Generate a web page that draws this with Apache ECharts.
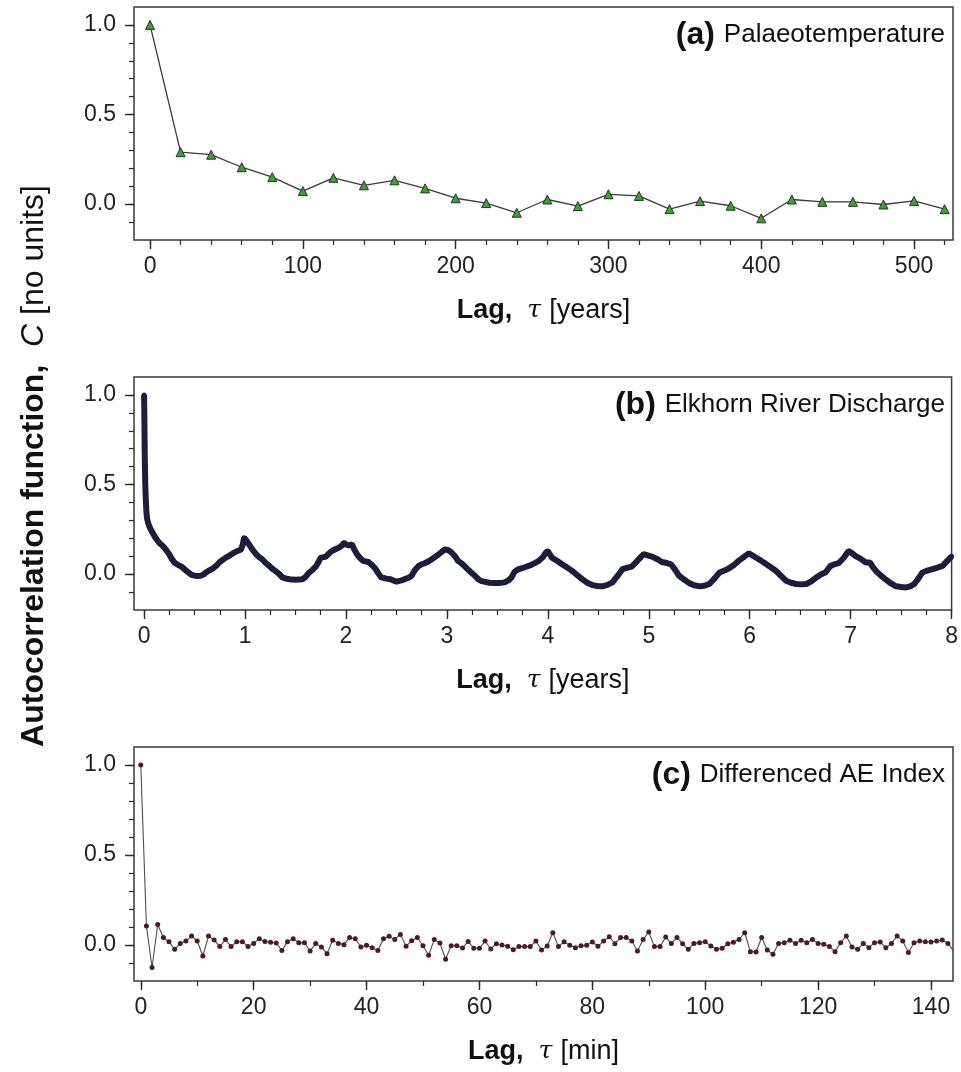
<!DOCTYPE html>
<html>
<head>
<meta charset="utf-8">
<script src="https://cdn.jsdelivr.net/npm/echarts@6/dist/echarts.min.js"></script>
<style>
  html, body { margin: 0; padding: 0; background: #fff; }
  #chart { width: 961px; height: 1072px; }
</style>
</head>
<body>
<div id="chart"></div>
<script>
// (a) palaeotemperature, lag in years
const aLag = [0, 20, 40, 60, 80, 100, 120, 140, 160, 180, 200, 220, 240, 260, 280, 300, 320, 340, 360, 380, 400, 420, 440, 460, 480, 500, 520];
const aAcf = [1.0, 0.29, 0.276, 0.206, 0.151, 0.073, 0.147, 0.105, 0.133, 0.088, 0.033, 0.006, -0.048, 0.026, -0.011, 0.055, 0.046, -0.028, 0.017, -0.009, -0.079, 0.026, 0.013, 0.013, -0.002, 0.018, -0.028];

// (b) Elkhorn river discharge, lag in years
const bLag = [0, 0.0027, 0.0055, 0.0082, 0.011, 0.0137, 0.0164, 0.0192, 0.022, 0.025, 0.03, 0.04, 0.055, 0.07, 0.09, 0.11, 0.13, 0.155, 0.18, 0.2,
  0.225, 0.25, 0.275, 0.3, 0.335, 0.37, 0.4, 0.42, 0.45, 0.47, 0.5, 0.52, 0.56, 0.59, 0.61, 0.65, 0.68, 0.72, 0.75, 0.78,
  0.81, 0.85, 0.89, 0.93, 0.96, 0.98, 0.99, 1.01, 1.04, 1.07, 1.11, 1.14, 1.17, 1.2, 1.24, 1.27, 1.3, 1.34, 1.37, 1.41,
  1.44, 1.5, 1.57, 1.6, 1.63, 1.67, 1.7, 1.73, 1.75, 1.78, 1.8, 1.83, 1.86, 1.9, 1.93, 1.96, 1.98, 2.0, 2.03, 2.06,
  2.08, 2.11, 2.14, 2.17, 2.22, 2.26, 2.29, 2.32, 2.35, 2.4, 2.44, 2.5, 2.55, 2.58, 2.62, 2.65, 2.68, 2.72, 2.75, 2.78,
  2.82, 2.85, 2.88, 2.91, 2.95, 2.98, 3.01, 3.04, 3.08, 3.11, 3.15, 3.18, 3.21, 3.24, 3.28, 3.31, 3.34, 3.37, 3.42, 3.47,
  3.52, 3.57, 3.61, 3.64, 3.67, 3.7, 3.73, 3.78, 3.83, 3.87, 3.91, 3.95, 3.98, 4.0, 4.02, 4.04, 4.09, 4.14, 4.19, 4.24,
  4.29, 4.34, 4.39, 4.44, 4.49, 4.54, 4.59, 4.64, 4.69, 4.74, 4.78, 4.83, 4.88, 4.92, 4.95, 4.99, 5.03, 5.08, 5.13, 5.18,
  5.22, 5.26, 5.3, 5.35, 5.4, 5.45, 5.51, 5.56, 5.6, 5.65, 5.7, 5.75, 5.79, 5.84, 5.89, 5.94, 5.99, 6.04, 6.09, 6.14,
  6.19, 6.23, 6.26, 6.31, 6.36, 6.41, 6.46, 6.51, 6.56, 6.61, 6.66, 6.71, 6.75, 6.8, 6.84, 6.88, 6.93, 6.98, 7.01, 7.05,
  7.1, 7.15, 7.19, 7.22, 7.25, 7.3, 7.35, 7.4, 7.45, 7.5, 7.55, 7.59, 7.63, 7.67, 7.71, 7.76, 7.81, 7.86, 7.91, 7.95, 8.0];
const bAcf = [1.0, 0.88, 0.714, 0.6, 0.522, 0.467, 0.424, 0.393, 0.36, 0.335, 0.31, 0.285, 0.262, 0.245, 0.225, 0.205, 0.19, 0.172, 0.16, 0.148,
  0.13, 0.11, 0.085, 0.065, 0.052, 0.042, 0.028, 0.018, 0.005, -0.004, -0.008, -0.01, -0.009, -0.002, 0.009, 0.022, 0.031, 0.05, 0.068, 0.08,
  0.092, 0.105, 0.12, 0.13, 0.138, 0.17, 0.203, 0.19, 0.166, 0.14, 0.111, 0.095, 0.083, 0.065, 0.046, 0.03, 0.018, 0.0, -0.018, -0.025,
  -0.028, -0.031, -0.028, -0.015, 0.006, 0.025, 0.042, 0.07, 0.092, 0.095, 0.098, 0.115, 0.129, 0.14, 0.148, 0.16, 0.175, 0.165, 0.16, 0.166,
  0.14, 0.111, 0.09, 0.074, 0.068, 0.05, 0.031, 0.005, -0.018, -0.025, -0.028, -0.042, -0.035, -0.028, -0.02, -0.009, 0.02, 0.046, 0.055, 0.061,
  0.072, 0.083, 0.095, 0.107, 0.125, 0.138, 0.135, 0.124, 0.1, 0.074, 0.058, 0.042, 0.025, 0.009, -0.01, -0.028, -0.038, -0.042, -0.048, -0.05,
  -0.05, -0.046, -0.035, -0.018, 0.013, 0.025, 0.031, 0.04, 0.05, 0.062, 0.074, 0.095, 0.12, 0.129, 0.11, 0.092, 0.075, 0.055, 0.038, 0.018,
  -0.005, -0.028, -0.048, -0.061, -0.066, -0.068, -0.06, -0.046, -0.01, 0.028, 0.035, 0.042, 0.07, 0.095, 0.111, 0.105, 0.098, 0.085, 0.068, 0.062,
  0.055, 0.025, -0.009, -0.03, -0.05, -0.062, -0.068, -0.063, -0.055, -0.025, 0.009, 0.02, 0.031, 0.05, 0.074, 0.095, 0.116, 0.1, 0.083, 0.065,
  0.046, 0.03, 0.018, -0.01, -0.037, -0.048, -0.055, -0.057, -0.055, -0.04, -0.018, 0.0, 0.009, 0.046, 0.055, 0.061, 0.09, 0.129, 0.118, 0.101,
  0.085, 0.065, 0.065, 0.04, 0.018, -0.008, -0.031, -0.052, -0.068, -0.072, -0.074, -0.068, -0.055, -0.025, 0.009, 0.02, 0.028, 0.037, 0.046, 0.07, 0.1];

// (c) differenced AE index, one value per minute of lag (0..144)
const cAcf = [1.0, 0.105, -0.125, 0.114, 0.042, 0.018, -0.024, 0.009, 0.022, 0.05,
  0.022, -0.061, 0.05, 0.028, -0.009, 0.03, -0.009, 0.018, 0.018, -0.009,
  0.009, 0.035, 0.02, 0.015, 0.011, -0.03, 0.018, 0.035, 0.013, 0.013,
  -0.033, 0.009, -0.011, -0.048, 0.026, 0.009, 0.002, 0.042, 0.035, -0.011,
  -0.002, -0.015, -0.03, 0.035, 0.048, 0.031, 0.059, -0.007, 0.024, 0.042,
  -0.004, -0.057, 0.03, 0.011, -0.079, -0.004, -0.004, -0.017, 0.02, -0.018,
  -0.018, 0.022, -0.022, 0.007, 0.0, -0.007, -0.026, -0.009, -0.009, -0.009,
  0.022, -0.028, -0.006, 0.068, -0.009, 0.018, -0.002, -0.015, -0.004, -0.002,
  0.017, -0.007, 0.022, 0.046, 0.007, 0.042, 0.041, 0.022, -0.033, 0.03,
  0.072, -0.009, -0.009, 0.044, 0.009, 0.041, 0.007, -0.024, 0.009, 0.013,
  0.018, -0.006, -0.024, -0.018, 0.007, 0.015, 0.031, 0.068, -0.037, -0.039,
  0.042, -0.028, -0.052, 0.009, 0.013, 0.026, 0.009, 0.026, 0.013, 0.031,
  0.009, 0.004, -0.009, -0.037, 0.013, 0.05, -0.011, -0.024, 0.009, -0.015,
  0.013, 0.017, -0.015, 0.009, 0.05, 0.022, -0.042, 0.013, 0.022, 0.018,
  0.017, 0.022, 0.028, 0.009, -0.033];

// tick positions
const aMajor = [0, 100, 200, 300, 400, 500];
const aMinor = [0, 20, 40, 60, 80, 100, 120, 140, 160, 180, 200, 220, 240, 260, 280, 300, 320, 340, 360, 380, 400, 420, 440, 460, 480, 500, 520];
const bMajor = [0, 1, 2, 3, 4, 5, 6, 7, 8];
const bMinor = [0, 0.25, 0.5, 0.75, 1, 1.25, 1.5, 1.75, 2, 2.25, 2.5, 2.75, 3, 3.25, 3.5, 3.75, 4, 4.25, 4.5, 4.75, 5, 5.25, 5.5, 5.75, 6, 6.25, 6.5, 6.75, 7, 7.25, 7.5, 7.75, 8];
const cMajor = [0, 20, 40, 60, 80, 100, 120, 140];
const cMinor = [0, 10, 20, 30, 40, 50, 60, 70, 80, 90, 100, 110, 120, 130, 140];
const yMajor = [0, 0.5, 1.0];
const yMinor = [-0.1, 0, 0.1, 0.2, 0.3, 0.4, 0.5, 0.6, 0.7, 0.8, 0.9, 1.0];

const panelTitles = ['(a)', '(b)', '(c)'];
const panelNames = ['Palaeotemperature', 'Elkhorn River Discharge', 'Differenced AE Index'];
const lagUnits = ['years', 'years', 'min'];

const FONT = '"Liberation Sans", Arial, sans-serif';
const INK = '#2a2a2a';

const grids = [
  { left: 134, width: 819, top: 7, height: 233 },
  { left: 134, width: 819, top: 377, height: 233 },
  { left: 134, width: 819, top: 747, height: 234 }
];
const xRanges = [[-10.5, 525.5], [-0.1, 8.0], [-1.2, 143.9]];
const xMajors = [aMajor, bMajor, cMajor];
const xMinors = [aMinor, bMinor, cMinor];

const xAxis = [];
const yAxis = [];
grids.forEach((g, i) => {
  const base = {
    gridIndex: i, type: 'value', min: xRanges[i][0], max: xRanges[i][1], position: 'bottom',
    axisLine: { show: false, onZero: false }, splitLine: { show: false }
  };
  xAxis.push(Object.assign({}, base, {
    axisTick: { show: true, customValues: xMajors[i], length: 9, lineStyle: { color: INK, width: 1.4 } },
    axisLabel: { customValues: xMajors[i], margin: 15, fontSize: 23, fontFamily: FONT, color: '#222' },
    name: '{b|Lag,  }{t|τ }{n|[' + lagUnits[i] + ']}',
    nameLocation: 'middle', nameGap: 57,
    nameTextStyle: {
      rich: {
        b: { fontSize: 27, fontWeight: 'bold', fontFamily: FONT, color: '#111' },
        t: { fontSize: 25, fontStyle: 'italic', fontFamily: '"DejaVu Serif", "Liberation Serif", serif', color: '#111' },
        n: { fontSize: 27, fontFamily: FONT, color: '#111' }
      }
    }
  }));
  xAxis.push(Object.assign({}, base, {
    axisTick: { show: true, customValues: xMinors[i], length: 5, lineStyle: { color: INK, width: 1.2 } },
    axisLabel: { show: false }
  }));
  const ybase = {
    gridIndex: i, type: 'value', min: -0.2, max: 1.1, position: 'left',
    axisLine: { show: false, onZero: false }, splitLine: { show: false }
  };
  yAxis.push(Object.assign({}, ybase, {
    axisTick: { show: true, customValues: yMajor, length: 9, lineStyle: { color: INK, width: 1.4 } },
    axisLabel: { customValues: yMajor, margin: 18, fontSize: 23, fontFamily: FONT, color: '#222',
      formatter: v => v.toFixed(1) }
  }));
  yAxis.push(Object.assign({}, ybase, {
    axisTick: { show: true, customValues: yMinor, length: 5, lineStyle: { color: INK, width: 1.2 } },
    axisLabel: { show: false }
  }));
});

const chart = echarts.init(document.getElementById('chart'));
chart.setOption({
  animation: false,
  backgroundColor: '#fff',
  grid: grids.map(g => Object.assign({ show: true, borderColor: '#3a3a3a', borderWidth: 1.5, containLabel: false }, g)),
  xAxis: xAxis,
  yAxis: yAxis,
  series: [
    {
      type: 'line', xAxisIndex: 0, yAxisIndex: 0,
      data: aLag.map((x, i) => [x, aAcf[i]]),
      symbol: 'triangle', symbolSize: 9,
      itemStyle: { color: '#3e9e3a', borderColor: '#1d3a1b', borderWidth: 1 },
      lineStyle: { color: '#3a3a3a', width: 1.3 }
    },
    {
      type: 'line', xAxisIndex: 2, yAxisIndex: 2,
      data: bLag.map((x, i) => [x, bAcf[i]]),
      symbol: 'circle', symbolSize: 5,
      itemStyle: { color: '#1c1e3c' },
      lineStyle: { color: '#1c1e3c', width: 6 }
    },
    {
      type: 'line', xAxisIndex: 4, yAxisIndex: 4,
      data: cAcf.map((v, i) => [i, v]),
      symbol: 'circle', symbolSize: 5,
      itemStyle: { color: '#4a1c20' },
      lineStyle: { color: '#4d4d4d', width: 1.1 }
    }
  ],
  graphic: [
    {
      type: 'text', x: 34, y: 466, rotation: Math.PI / 2,
      style: {
        text: '{b|Autocorrelation function,  }{i|C }{n|[no units]}',
        align: 'center', verticalAlign: 'middle', textAlign: 'center', textVerticalAlign: 'middle',
        rich: {
          b: { fontSize: 32, fontWeight: 'bold', fontFamily: FONT, fill: '#111' },
          i: { fontSize: 32, fontStyle: 'italic', fontFamily: FONT, fill: '#111' },
          n: { fontSize: 32, fontFamily: FONT, fill: '#111' }
        }
      }
    }
  ].concat(panelTitles.map((t, i) => ({
    type: 'text', x: 945, y: grids[i].top + 28,
    style: {
      text: '{b|' + t + ' }{n|' + panelNames[i] + '}',
      align: 'right', verticalAlign: 'middle', textAlign: 'right', textVerticalAlign: 'middle',
      rich: {
        b: { fontSize: 32, fontWeight: 'bold', fontFamily: FONT, fill: '#111' },
        n: { fontSize: 26, fontFamily: FONT, fill: '#111' }
      }
    }
  })))
});
</script>
</body>
</html>
